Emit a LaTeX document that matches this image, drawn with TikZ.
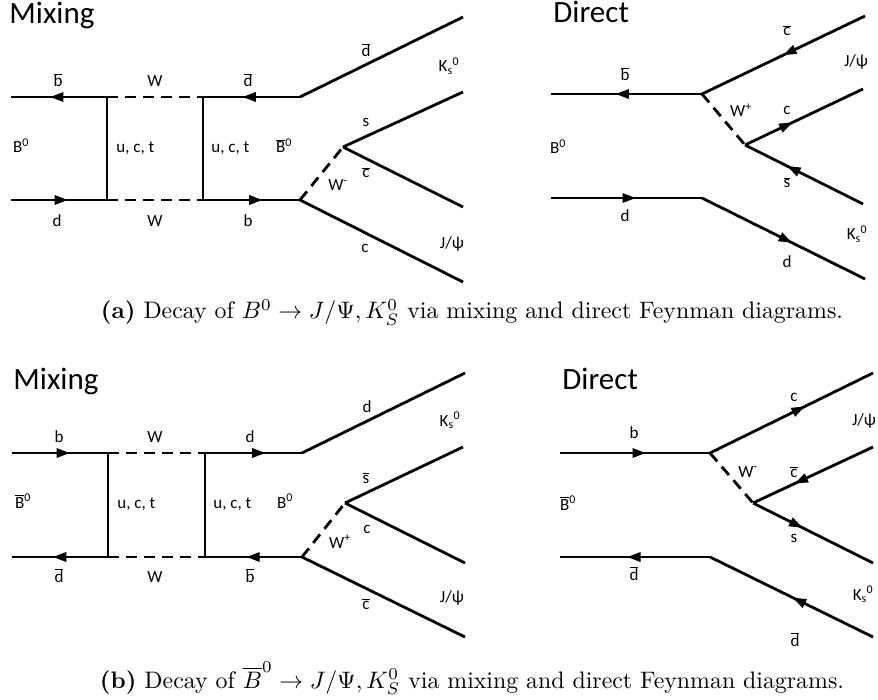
\documentclass[tikz,border=0pt]{standalone}
\usepackage{fontspec}
\usepackage{graphicx}
\usetikzlibrary{arrows.meta,decorations.markings}
\newfontfamily\calib{Carlito}
\newcommand{\ab}[1]{$\overline{\mbox{#1}}$}
\newcommand{\Kzero}{K\textsubscript{s}\textsuperscript{0}}
\begin{document}
\begin{tikzpicture}[x=1pt,y=-1pt,
  line width=2.8pt,
  lbl/.style={font=\calib\fontsize{17}{19}\selectfont, anchor=base, inner sep=0pt},
  lblw/.style={lbl, anchor=base west},
  ttl/.style={font=\calib\fontsize{31}{35}\selectfont, anchor=base west, inner sep=0pt},
  captext/.style={anchor=base, inner sep=0pt},
  prop/.style={line width=2.8pt},
  wline/.style={line width=2.8pt, dash pattern=on 11pt off 7pt},
  fermion/.style={line width=2.8pt, postaction={decorate},
    decoration={markings, mark=at position #1 with {\arrow[line width=0pt]{Triangle[length=13pt,width=10pt]}}}}
]
\useasboundingbox (0,0) rectangle (878,700);

% ================= (a) Mixing =================
\node[ttl] (tA) at (8,24) {Mixing};
\coordinate (a1) at (11,97);  \coordinate (a2) at (107,97);
\coordinate (a3) at (203,97); \coordinate (a4) at (300,97);
\coordinate (a5) at (11,200); \coordinate (a6) at (107,200);
\coordinate (a7) at (203,200);\coordinate (a8) at (300,200);
\coordinate (a9) at (463,17); \coordinate (a10) at (343,147);
\coordinate (a11) at (463,92);\coordinate (a12) at (463,207);
\coordinate (a13) at (463,282);
\draw[fermion=0.59] (a2) -- (a1);
\draw[fermion=0.59] (a5) -- (a6);
\draw[prop] (a2) -- (a6);
\draw[wline] (a2) -- (a3);
\draw[wline] (a6) -- (a7);
\draw[prop] (a3) -- (a7);
\draw[fermion=0.59] (a4) -- (a3);
\draw[fermion=0.61] (a7) -- (a8);
\draw[prop] (a4) -- (a9);
\draw[prop] (a8) -- (a13);
\draw[wline] (a8) -- (a10);
\draw[prop] (a10) -- (a11);
\draw[prop] (a10) -- (a12);
\node[lbl] (la1) at (58,87) {\ab{b}};
\node[lbl] (la2) at (155,87) {W};
\node[lbl] (la3) at (248,87) {\ab{d}};
\node[lbl] (la4) at (21,153) {B\textsuperscript{0}};
\node[lblw] (la5) at (115,153) {u, c, t};
\node[lblw] (la6) at (210,153) {u, c, t};
\node[lbl] (la7) at (284,153) {\ab{B}\textsuperscript{0}};
\node[lbl] (la8) at (57,227) {d};
\node[lbl] (la9) at (155,227) {W};
\node[lbl] (la10) at (248,227) {b};
\node[lbl] (la11) at (366,57) {\ab{d}};
\node[lbl] (la12) at (449,72) {\Kzero};
\node[lbl] (la13) at (366,127) {s};
\node[lbl] (la14) at (366,178) {\ab{c}};
\node[lbl] (la15) at (338,191) {W\textsuperscript{-}};
\node[lbl] (la16) at (365,253) {c};
\node[lbl] (la17) at (452,249) {J/ψ};

% ================= (a) Direct =================
\node[ttl] (tB) at (552,23) {Direct};
\coordinate (t1) at (551,94);  \coordinate (t2) at (702,94);
\coordinate (t3) at (865,16);  \coordinate (t4) at (745,145);
\coordinate (t5) at (863,89);  \coordinate (t6) at (863,204);
\coordinate (t7) at (551,198); \coordinate (t8) at (702,198);
\coordinate (t9) at (865,279);
\draw[fermion=0.57] (t2) -- (t1);
\draw[fermion=0.50] (t3) -- (t2);
\draw[wline] (t2) -- (t4);
\draw[fermion=0.40] (t4) -- (t5);
\draw[fermion=0.64] (t6) -- (t4);
\draw[fermion=0.56] (t7) -- (t8);
\draw[fermion=0.55] (t8) -- (t9);
\node[lbl] (lt1) at (787,36) {\ab{c}};
\node[lbl] (lt2) at (856,67) {J/ψ};
\node[lbl] (lt3) at (625,81) {\ab{b}};
\node[lbl] (lt4) at (741,117) {W\textsuperscript{+}};
\node[lbl] (lt5) at (787,115) {c};
\node[lbl] (lt6) at (558,154) {B\textsuperscript{0}};
\node[lbl] (lt7) at (787,188) {\ab{s}};
\node[lbl] (lt8) at (625,222) {d};
\node[lbl] (lt9) at (857,240) {\Kzero};
\node[lbl] (lt10) at (787,268) {d};

\node[captext] (capA) at (472,319) {\resizebox{742pt}{!}{\textbf{(a)} Decay of $B^0\rightarrow J/\Psi, K_S^0$ via mixing and direct Feynman diagrams.}};

% ================= (b) Mixing =================
\node[ttl] (tC) at (12,390) {Mixing};
\coordinate (b1) at (12,453);  \coordinate (b2) at (108,453);
\coordinate (b3) at (205,453); \coordinate (b4) at (302,453);
\coordinate (b5) at (12,557);  \coordinate (b6) at (108,557);
\coordinate (b7) at (205,557); \coordinate (b8) at (302,557);
\coordinate (b9) at (465,373); \coordinate (b10) at (345,503);
\coordinate (b11) at (463,447);\coordinate (b12) at (465,563);
\coordinate (b13) at (465,637);
\draw[fermion=0.60] (b1) -- (b2);
\draw[fermion=0.57] (b6) -- (b5);
\draw[prop] (b2) -- (b6);
\draw[wline] (b2) -- (b3);
\draw[wline] (b6) -- (b7);
\draw[prop] (b3) -- (b7);
\draw[fermion=0.62] (b3) -- (b4);
\draw[fermion=0.57] (b8) -- (b7);
\draw[prop] (b4) -- (b9);
\draw[prop] (b8) -- (b13);
\draw[wline] (b8) -- (b10);
\draw[prop] (b10) -- (b11);
\draw[prop] (b10) -- (b12);
\node[lbl] (lb1) at (59,442) {b};
\node[lbl] (lb2) at (155,442) {W};
\node[lbl] (lb3) at (250,442) {d};
\node[lbl] (lb4) at (23,508) {\ab{B}\textsuperscript{0}};
\node[lblw] (lb5) at (116,508) {u, c, t};
\node[lblw] (lb6) at (212,508) {u, c, t};
\node[lbl] (lb7) at (285,508) {B\textsuperscript{0}};
\node[lbl] (lb8) at (59,582) {\ab{d}};
\node[lbl] (lb9) at (155,582) {W};
\node[lbl] (lb10) at (250,582) {\ab{b}};
\node[lbl] (lb11) at (367,413) {d};
\node[lbl] (lb12) at (450,426) {\Kzero};
\node[lbl] (lb13) at (366,483) {\ab{s}};
\node[lbl] (lb14) at (367,533) {c};
\node[lbl] (lb15) at (340,548) {W\textsuperscript{+}};
\node[lbl] (lb16) at (366,609) {\ab{c}};
\node[lbl] (lb17) at (452,602) {J/ψ};

% ================= (b) Direct =================
\node[ttl] (tD) at (561,389) {Direct};
\coordinate (r1) at (560,453); \coordinate (r2) at (710,453);
\coordinate (r3) at (873,373); \coordinate (r4) at (753,503);
\coordinate (r5) at (873,447); \coordinate (r6) at (873,563);
\coordinate (r7) at (560,557); \coordinate (r8) at (710,557);
\coordinate (r9) at (873,637);
\draw[fermion=0.57] (r1) -- (r2);
\draw[fermion=0.58] (r2) -- (r3);
\draw[wline] (r2) -- (r4);
\draw[fermion=0.65] (r5) -- (r4);
\draw[fermion=0.41] (r4) -- (r6);
\draw[fermion=0.55] (r8) -- (r7);
\draw[fermion=0.49] (r9) -- (r8);
\node[lbl] (lr1) at (794,402) {c};
\node[lbl] (lr2) at (864,425) {J/ψ};
\node[lbl] (lr3) at (634,438) {b};
\node[lbl] (lr4) at (748,477) {W\textsuperscript{-}};
\node[lbl] (lr5) at (794,477) {\ab{c}};
\node[lbl] (lr6) at (568,510) {\ab{B}\textsuperscript{0}};
\node[lbl] (lr7) at (794,542) {s};
\node[lbl] (lr8) at (634,580) {\ab{d}};
\node[lbl] (lr9) at (863,600) {\Kzero};
\node[lbl] (lr10) at (795,646) {\ab{d}};

\node[captext] (capB) at (472,688) {\resizebox{744pt}{!}{\textbf{(b)} Decay of $\overline{B}^0\rightarrow J/\Psi, K_S^0$ via mixing and direct Feynman diagrams.}};
\end{tikzpicture}
\end{document}
